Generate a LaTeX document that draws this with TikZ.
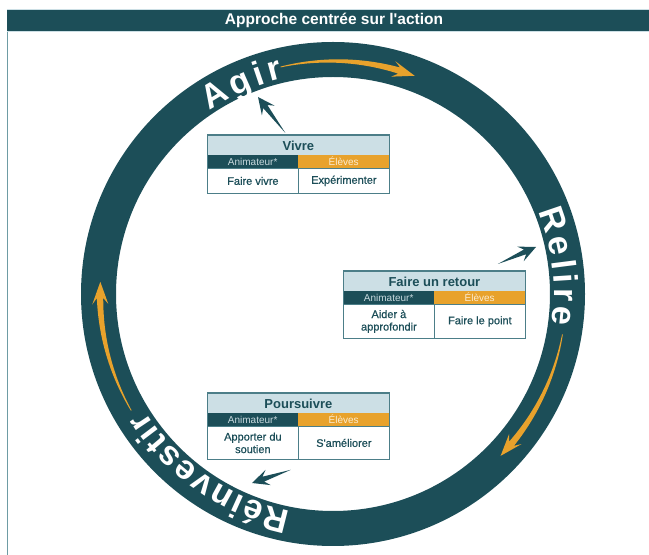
\documentclass[tikz,border=0pt]{standalone}
\usepackage{fontspec}
\setmainfont{Liberation Sans}
\newfontfamily\medfont{Liberation Sans}[FakeBold=0.6]
\usetikzlibrary{calc,decorations.text}
\definecolor{ring}{HTML}{1C4E58}
\definecolor{orng}{HTML}{E8A22C}
\definecolor{hdrblue}{HTML}{CCDFE5}
\definecolor{bordc}{HTML}{4C7E88}
\definecolor{framec}{HTML}{6E9CA4}
\definecolor{subtxt}{HTML}{C8D9DE}
\definecolor{eltxt}{HTML}{FBEBCF}
\newcommand\orarc[3]{%
\fill[orng] plot[domain=#1:#2,samples=40] ({333+(233+0.4+2.8*(\x-(#1))/((#2)-(#1)))*cos(\x)},{261+(233+0.4+2.8*(\x-(#1))/((#2)-(#1)))*sin(\x)})
 -- ({333+241*cos((#2)+1.5)},{261+241*sin((#2)+1.5)})
 -- ({333+233*cos(#3)},{261+233*sin(#3)})
 -- ({333+225*cos((#2)+1.5)},{261+225*sin((#2)+1.5)})
 -- plot[domain=#2:#1,samples=40] ({333+(233-0.4-2.8*(\x-(#1))/((#2)-(#1)))*cos(\x)},{261+(233-0.4-2.8*(\x-(#1))/((#2)-(#1)))*sin(\x)}) -- cycle;}
\newcommand\ptr[2]{%
\fill[ring] (#1) -- ($(#2)!12pt!(#1)!2.6pt!90:(#2)$) -- ($(#2)!17pt!(#1)!8pt!90:(#2)$) -- (#2)
 -- ($(#2)!17pt!(#1)!8pt!-90:(#2)$) -- ($(#2)!12pt!(#1)!2.6pt!-90:(#2)$) -- cycle;}
\begin{document}
\begin{tikzpicture}[x=1pt,y=1pt,
 hdr/.style={draw=bordc, line width=0.8pt, fill=hdrblue, minimum width=182pt, minimum height=20pt, inner sep=0pt, anchor=north west, text=ring, font=\bfseries\fontsize{13}{13}\selectfont},
 subA/.style={fill=ring, minimum width=91pt, minimum height=13pt, inner sep=0pt, anchor=north west, text=subtxt, font=\fontsize{10}{10}\selectfont},
 subE/.style={subA, fill=orng, text=eltxt},
 cell/.style={draw=bordc, line width=0.8pt, fill=white, minimum width=91pt, inner sep=0pt, anchor=north west, text=ring, align=center, font=\medfont\fontsize{11}{12.5}\selectfont},
 outline/.style={draw=bordc, line width=1pt},
 ringtxt/.style={decorate, decoration={text along path, text align=fit to path, text color=white}}
]
\useasboundingbox (0,0) rectangle (649,555);
% frame and title
\draw[framec, line width=1.8pt] (7.5,0) -- (7.5,545);
\fill[ring] (6.6,524) rectangle (649,545);
\draw[hdrblue, line width=0.8pt] (6.6,545.4) -- (649,545.4);
\draw[hdrblue, line width=0.8pt] (6.6,523.6) -- (649,523.6);
\node[text=white, font=\bfseries\fontsize{15.5}{15.5}\selectfont] (title) at (334,534.5) {Approche centrée sur l\textquotesingle action};
% ring
\fill[ring, even odd rule] (333,261) circle[radius=252] (333,261) circle[radius=217];
% orange arrows
\orarc{103}{73.5}{69.5}
\orarc{-10}{-40}{-44}
\orarc{210}{181}{177}
% ring texts
\path[ringtxt, decoration={text={|\bfseries\fontsize{34}{34}\selectfont|Agir}}] (333,261) ++(124:221) arc[start angle=124, end angle=103, radius=221];
\path[ringtxt, decoration={text={|\bfseries\fontsize{34}{34}\selectfont|Relire}}] (333,261) ++(22:221) arc[start angle=22, end angle=-8, radius=221];
\path[ringtxt, decoration={text={|\bfseries\fontsize{34}{34}\selectfont|Réinvestir}}] (333,261) ++(259:221) arc[start angle=259, end angle=212, radius=221];
% Vivre
\node[hdr] (vh) at (207,420) {Vivre};
\node[subA] (va) at (207,400) {Animateur*};
\node[subE] (ve) at (298,400) {Élèves};
\node[cell, minimum height=25pt] (vc1) at (207,387) {Faire vivre};
\node[cell, minimum height=25pt] (vc2) at (298,387) {Expérimenter};
\draw[outline] (vh.north west) rectangle (vc2.south east);
% Faire un retour
\node[hdr] (rh) at (343,284) {Faire un retour};
\node[subA] (ra) at (343,264) {Animateur*};
\node[subE] (re) at (434,264) {Élèves};
\node[cell, minimum height=34pt] (rc1) at (343,251) {Aider à\\approfondir};
\node[cell, minimum height=34pt] (rc2) at (434,251) {Faire le point};
\draw[outline] (rh.north west) rectangle (rc2.south east);
% Poursuivre
\node[hdr] (ph) at (207,162) {Poursuivre};
\node[subA] (pa) at (207,142) {Animateur*};
\node[subE] (pe) at (298,142) {Élèves};
\node[cell, minimum height=33pt] (pc1) at (207,129) {Apporter du\\soutien};
\node[cell, minimum height=33pt] (pc2) at (298,129) {S'améliorer};
\draw[outline] (ph.north west) rectangle (pc2.south east);
% pointers
\coordinate (vt) at ($(vh.north)+(-13,2)$);
\coordinate (vp) at (258,458);
\coordinate (rt) at ($(rh.north east)+(-28,7)$);
\coordinate (rp) at (536,308);
\coordinate (ptl) at ($(pc1.south east)+(-8,-10)$);
\coordinate (ptp) at (252,72);
\ptr{vt}{vp}
\ptr{rt}{rp}
\ptr{ptl}{ptp}
\end{tikzpicture}
\end{document}
